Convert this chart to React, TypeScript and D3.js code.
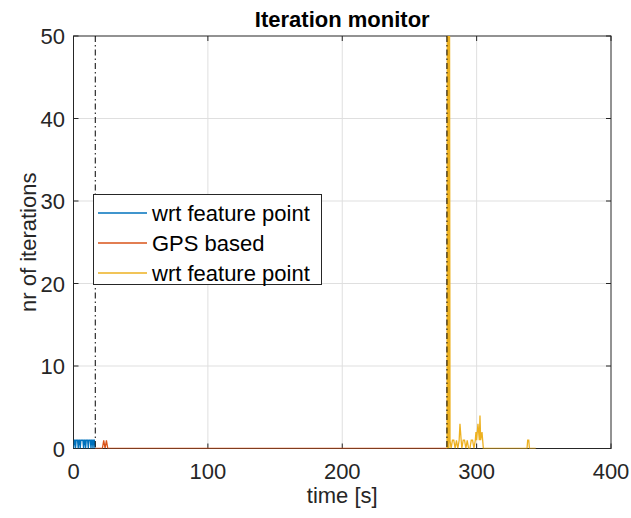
import React from "react";
import * as d3 from "d3";

const blueTimes = [0,0.5,1,1.5,2,2.5,3,3.5,4,4.5,5,5.5,6,6.5,7,7.5,8,8.5,9,9.5,10,10.5,11,11.5,12,12.5,13,13.5,14,14.5,15,15.5,16];
const blueValues = [0,1,1,0,1,1,1,0,1,1,0,1,1,1,1,0,1,1,0,1,1,1,0,1,1,1,0,1,1,0,1,1,0];

const orangeTimes = [16,21.5,22.5,23.5,24.5,25.5,278];
const orangeValues = [0,0,1,0,1,0,0];

const yellowTimes = [278,278.2,278.6,279.0,279.4,279.8,280.2,281,282,283,284,285,286,287,287.6,288.5,289,290,291,292,293,294,295,296,297,298,299,299.5,300,301,302,302.5,303,304,305,337.5,338,338.8,339.3,344];
const yellowValues = [0,60,0,60,0,60,1,0,1,1,0,1,0,1,3,1,0,1,1,0,1,0,0,1,1,0,1,2,1,3,1,4,1,2,0,0,1,1,0,0];

const switchTimes = [16.2, 277.9];

const xTicks = [0, 100, 200, 300, 400];
const yTicks = [0, 10, 20, 30, 40, 50];
const legendLabels = ["wrt feature point", "GPS based", "wrt feature point"];
const seriesColors = ["#0072BD", "#D95319", "#EDB120"];

const W = 631, H = 518;
const L = 73.5, R = 611, T = 36, B = 448.5;
const FONT = "'Liberation Sans', Arial, Helvetica, sans-serif";
const AX = "#262626";

export default function App() {
  const x = d3.scaleLinear().domain([0, 400]).range([L, R]);
  const y = d3.scaleLinear().domain([0, 50]).range([B, T]);
  const line = d3.line<[number, number]>().x(d => x(d[0])).y(d => y(d[1]));
  const series = [
    d3.zip(blueTimes, blueValues) as [number, number][],
    d3.zip(orangeTimes, orangeValues) as [number, number][],
    d3.zip(yellowTimes, yellowValues) as [number, number][],
  ];
  const legX = 93.5, legY = 194.5, legW = 228, legH = 90;
  return (
    <svg width={W} height={H} style={{ position: "absolute", left: 0, top: 0, background: "#fff" }} fontFamily={FONT}>
      <defs>
        <clipPath id="plotclip"><rect x={L} y={T} width={R - L} height={B - T} /></clipPath>
      </defs>
      <rect x={0} y={0} width={W} height={H} fill="#fff" />
      {xTicks.slice(1, -1).map(t => (
        <line key={"gx" + t} x1={x(t)} x2={x(t)} y1={T} y2={B} stroke="#dfdfdf" strokeWidth={1} />
      ))}
      {yTicks.slice(1, -1).map(t => (
        <line key={"gy" + t} x1={L} x2={R} y1={y(t)} y2={y(t)} stroke="#dfdfdf" strokeWidth={1} />
      ))}
      <rect x={L} y={T} width={R - L} height={B - T} fill="none" stroke={AX} strokeWidth={1} />
      {xTicks.map(t => (
        <g key={"xt" + t}>
          <line x1={x(t)} x2={x(t)} y1={B} y2={B - 5} stroke={AX} />
          <line x1={x(t)} x2={x(t)} y1={T} y2={T + 5} stroke={AX} />
          <text x={x(t)} y={479} textAnchor="middle" fontSize={22} fill={AX}>{t}</text>
        </g>
      ))}
      {yTicks.map(t => (
        <g key={"yt" + t}>
          <line x1={L} x2={L + 5} y1={y(t)} y2={y(t)} stroke={AX} />
          <line x1={R} x2={R - 5} y1={y(t)} y2={y(t)} stroke={AX} />
          <text x={65} y={y(t) + 8} textAnchor="end" fontSize={22} fill={AX}>{t}</text>
        </g>
      ))}
      <g clipPath="url(#plotclip)">
        {series.map((s, i) => (
          <path key={"s" + i} d={line(s) || ""} fill="none" stroke={seriesColors[i]} strokeWidth={1.3} />
        ))}
        {switchTimes.map(t => (
          <line key={"sw" + t} x1={x(t)} x2={x(t)} y1={T} y2={B} stroke="#000" strokeWidth={1} strokeDasharray="6,3,1.5,3" />
        ))}
      </g>
      <text x={(L + R) / 2} y={27} textAnchor="middle" fontSize={22} fontWeight="bold" fill="#000">Iteration monitor</text>
      <text x={(L + R) / 2} y={503} textAnchor="middle" fontSize={22} fill={AX}>time [s]</text>
      <text transform={`translate(36,${(T + B) / 2}) rotate(-90)`} textAnchor="middle" fontSize={22} fill={AX}>nr of iterations</text>
      <rect x={legX} y={legY} width={legW} height={legH} fill="#fff" stroke={AX} strokeWidth={1} />
      {legendLabels.map((lab, i) => {
        const cy = 213 + i * 30;
        return (
          <g key={"lg" + i}>
            <line x1={98} x2={147} y1={cy} y2={cy} stroke={seriesColors[i]} strokeWidth={1.3} />
            <text x={152} y={cy + 8} fontSize={22} fill="#000">{lab}</text>
          </g>
        );
      })}
    </svg>
  );
}
